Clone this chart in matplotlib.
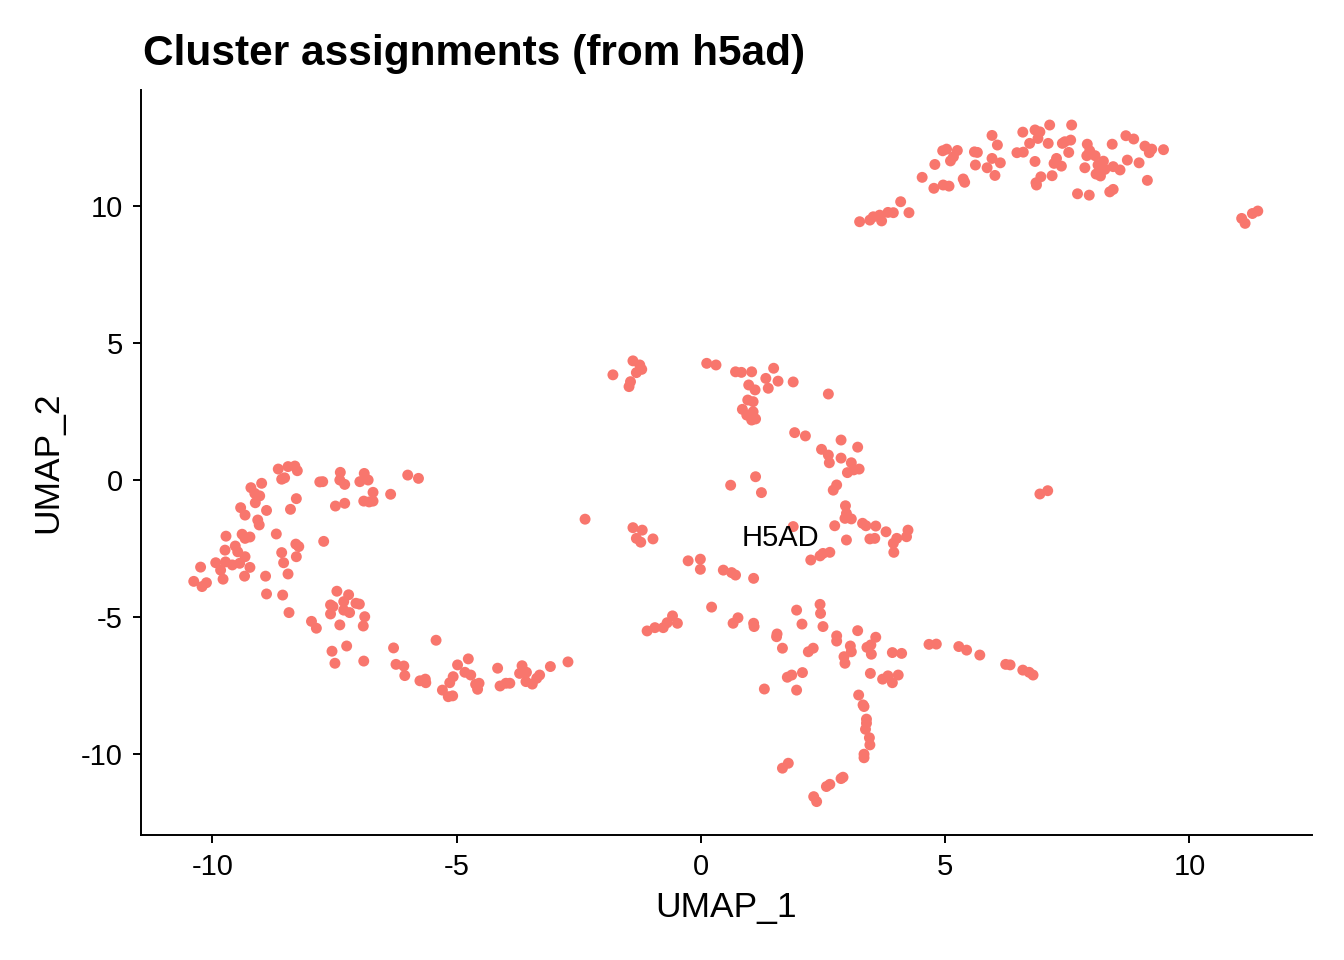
import matplotlib
matplotlib.use("Agg")
import matplotlib.pyplot as plt

plt.rcParams["font.family"] = ["Liberation Sans", "DejaVu Sans"]
plt.rcParams["axes.unicode_minus"] = False

RED = "#F8766D"

# UMAP coordinates, grouped by region
LEFT_X = [-8.65, -8.45, -8.31, -8.26, -8.58, -8.52, -8.99, -9.21, -9.13, -9.03,
          -9.12, -9.42, -9.33, -8.89, -9.07, -9.04, -8.40, -8.28, -7.80, -7.74,
          -7.38, -7.39, -7.29, -6.89, -6.98, -6.81, -6.71, -6.90, -6.79, -6.71,
          -7.48, -7.29, -6.35, -6.00, -5.78, -9.72, -9.39, -9.33, -9.23, -8.69,
          -9.53, -9.48, -9.33, -9.74, -9.93, -9.73, -9.59, -9.44, -9.83, -10.24,
          -10.38, -10.21, -10.12, -9.78, -9.34, -9.23, -8.91, -8.58, -8.54, -8.29,
          -8.23, -8.28, -8.45, -7.72, -8.89, -8.56, -8.43, -7.97, -7.87, -7.45,
          -7.21, -7.31, -7.58, -7.53, -7.58, -7.31, -7.19, -7.06, -6.99, -6.88,
          -6.91, -7.39]
LEFT_Y = [0.40, 0.49, 0.51, 0.34, 0.03, 0.08, -0.12, -0.28, -0.49, -0.58,
          -0.83, -1.01, -1.28, -1.11, -1.46, -1.64, -1.07, -0.68, -0.07, -0.06,
          0.28, 0.00, -0.16, 0.24, -0.06, 0.00, -0.45, -0.77, -0.80, -0.77,
          -0.95, -0.85, -0.52, 0.18, 0.06, -2.05, -1.98, -2.13, -2.08, -1.97,
          -2.41, -2.62, -2.80, -2.56, -3.02, -2.99, -3.10, -3.04, -3.29, -3.18,
          -3.70, -3.89, -3.75, -3.62, -3.51, -3.19, -3.51, -2.65, -3.02, -2.34,
          -2.43, -2.80, -3.43, -2.24, -4.16, -4.20, -4.84, -5.16, -5.41, -4.06,
          -4.19, -4.44, -4.56, -4.62, -4.89, -4.75, -4.84, -4.50, -4.53, -4.99,
          -5.33, -5.29]

ARC_X = [-7.55, -7.25, -7.49, -6.90, -6.29, -5.42, -6.24, -6.08, -6.06, -5.75,
         -5.64, -5.63, -5.29, -5.17, -5.08, -5.14, -5.07, -4.98, -4.83, -4.71,
         -4.76, -4.61, -4.54, -4.57, -4.16, -4.11, -3.99, -3.91, -3.66, -3.71,
         -3.57, -3.58, -3.45, -3.36, -3.30, -3.08, -2.72]
ARC_Y = [-6.25, -6.06, -6.69, -6.61, -6.13, -5.85, -6.73, -6.79, -7.14, -7.33,
         -7.27, -7.40, -7.67, -7.91, -7.88, -7.40, -7.18, -6.75, -7.02, -7.12,
         -6.53, -7.46, -7.42, -7.64, -6.87, -7.52, -7.42, -7.42, -6.78, -7.06,
         -7.02, -7.36, -7.45, -7.24, -7.12, -6.81, -6.64]

MID_X = [-1.80, -1.39, -1.25, -1.21, -1.32, -1.44, -1.47, 0.12, 0.31, 0.71,
         0.83, 1.04, 1.49, 1.33, 1.58, 1.38, 1.89, 2.61, 0.98, 1.11,
         0.96, 1.07, 0.85, 1.07, 0.94, 1.04, 1.12, 1.92, 2.14, 2.87,
         3.21, 2.47, 2.61, 2.63, 2.87, 3.08, 3.00, 3.13, 3.24, 1.12,
         0.61, 1.24, 2.78, 2.71, -2.37, -1.39, -1.20, -1.32, -1.23, -0.98,
         2.96, 2.98, 2.95, 3.08, 3.31, 3.38, 3.58, 2.74, 1.89, 2.98,
         3.46, 3.56, 3.79, 4.24, 4.21, 4.01, 3.94, 3.95, 2.50, 2.64,
         2.44, 2.25, -0.26, -0.01, -0.01, 0.46, 0.63, 0.71, 1.08, 6.94,
         7.10]
MID_Y = [3.84, 4.35, 4.20, 4.04, 3.92, 3.59, 3.41, 4.26, 4.20, 3.95,
         3.93, 3.95, 4.08, 3.71, 3.61, 3.35, 3.58, 3.14, 3.47, 3.29,
         2.92, 2.86, 2.58, 2.49, 2.37, 2.19, 2.23, 1.73, 1.61, 1.46,
         1.20, 1.12, 0.91, 0.63, 0.80, 0.63, 0.27, 0.37, 0.40, 0.12,
         -0.19, -0.46, -0.18, -0.37, -1.43, -1.74, -1.83, -2.13, -2.27, -2.15,
         -0.94, -1.22, -1.40, -1.42, -1.58, -1.67, -1.68, -1.67, -1.70, -2.19,
         -2.15, -2.13, -1.89, -1.83, -2.07, -2.13, -2.31, -2.64, -2.68, -2.64,
         -2.77, -2.92, -2.95, -2.89, -3.26, -3.29, -3.38, -3.47, -3.59, -0.51,
         -0.39]

LOW_X = [0.22, -1.10, -0.94, -0.77, -0.69, -0.58, -0.48, 0.66, 0.76, 1.08,
         1.09, 1.56, 1.55, 1.67, 1.96, 2.07, 2.44, 2.45, 2.50, 2.20,
         2.30, 2.78, 2.78, 3.21, 3.58, 3.06, 3.08, 2.93, 2.95, 3.40,
         3.48, 3.49, 3.92, 4.11, 3.47, 3.72, 3.83, 3.92, 4.04, 1.77,
         1.86, 2.08, 1.30, 1.96, 3.23, 3.32, 4.67, 4.82, 5.28, 5.44,
         5.71, 6.24, 6.33, 6.59, 6.72, 6.80, 3.34, 3.39, 3.39, 3.37,
         3.45, 3.46, 3.34, 3.34, 1.67, 1.79, 2.87, 2.91, 2.57, 2.64,
         2.31, 2.37]
LOW_Y = [-4.64, -5.51, -5.39, -5.39, -5.21, -4.96, -5.23, -5.23, -5.03, -5.23,
         -5.35, -5.62, -5.72, -6.14, -4.75, -5.26, -4.54, -4.87, -5.35, -6.27,
         -6.14, -5.69, -5.88, -5.50, -5.74, -6.06, -6.27, -6.45, -6.69, -6.11,
         -6.02, -6.36, -6.30, -6.33, -7.06, -7.27, -7.15, -7.40, -7.12, -7.20,
         -7.12, -7.03, -7.63, -7.67, -7.85, -8.21, -6.00, -5.99, -6.08, -6.21,
         -6.39, -6.73, -6.75, -6.94, -7.02, -7.12, -8.27, -8.73, -8.88, -9.10,
         -9.41, -9.67, -10.01, -10.14, -10.52, -10.34, -10.90, -10.85, -11.19, -11.11,
         -11.56, -11.74]

TOP_X = [3.25, 3.46, 3.53, 3.66, 3.70, 3.83, 3.94, 4.09, 4.26, 4.53,
         4.77, 4.79, 4.96, 5.08, 5.37, 5.40, 4.95, 5.03, 5.25, 5.11,
         5.17, 5.60, 5.66, 5.62, 5.86, 6.02, 5.96, 6.13, 5.96, 6.07,
         6.47, 6.60, 6.59, 6.84, 6.94, 6.73, 6.90, 7.14, 7.11, 6.84,
         6.87, 6.86, 6.96, 7.19, 7.59, 7.40, 7.57, 7.45, 7.53, 7.28,
         7.23, 7.38, 7.91, 7.96, 7.90, 8.07, 7.86, 7.71, 7.95, 8.13,
         8.24, 8.27, 8.09, 8.18, 8.44, 8.58, 8.37, 8.44, 8.42, 8.70,
         8.86, 8.73, 8.97, 9.09, 9.23, 9.18, 9.47, 9.14, 11.07, 11.14,
         11.29, 11.40]
TOP_Y = [9.43, 9.49, 9.61, 9.67, 9.46, 9.77, 9.76, 10.16, 9.76, 11.05,
         10.65, 11.52, 10.77, 10.73, 10.99, 10.87, 12.02, 12.08, 12.03, 11.65,
         11.80, 11.98, 11.96, 11.50, 11.40, 11.12, 11.74, 11.58, 12.58, 12.23,
         11.95, 11.97, 12.70, 12.78, 12.71, 12.29, 12.47, 12.96, 12.29, 11.63,
         10.77, 10.85, 11.07, 11.11, 12.96, 12.29, 12.41, 12.35, 11.96, 11.74,
         11.56, 11.46, 12.26, 12.02, 11.84, 11.84, 11.40, 10.45, 10.40, 11.50,
         11.64, 11.34, 11.17, 11.10, 11.44, 11.32, 10.52, 10.61, 12.26, 12.57,
         12.45, 11.68, 11.58, 12.19, 12.08, 11.95, 12.06, 10.94, 9.55, 9.37,
         9.73, 9.82]

umap_1 = LEFT_X + ARC_X + MID_X + LOW_X + TOP_X
umap_2 = LEFT_Y + ARC_Y + MID_Y + LOW_Y + TOP_Y
CLUSTER_LABEL = "H5AD"
LABEL_POS = (1.62, -2.12)

fig = plt.figure(figsize=(13.44, 9.6), dpi=100)
ax = fig.add_axes([0.1049, 0.1302, 0.8713, 0.7758])

ax.scatter(umap_1, umap_2, s=62, color=RED, edgecolors="none", zorder=2)
ax.text(*LABEL_POS, CLUSTER_LABEL, ha="center", va="center", fontsize=21, color="black")

ax.set_xlim(-11.46, 12.51)
ax.set_ylim(-12.96, 14.23)
ax.set_xticks([-10, -5, 0, 5, 10])
ax.set_yticks([-10, -5, 0, 5, 10])
for s in ("top", "right"):
    ax.spines[s].set_visible(False)
for s in ("left", "bottom"):
    ax.spines[s].set_linewidth(1.4)
ax.tick_params(length=6, width=1.4, pad=7, labelsize=21, colors="black")

fig.text(726 / 1344, 1 - 917 / 960, "UMAP_1", ha="center", va="baseline", fontsize=25.5)
fig.text(48 / 1344, 1 - 462 / 960, "UMAP_2", ha="center", va="center", rotation=90, fontsize=25.5)
fig.text(143 / 1344, 1 - 65 / 960, "Cluster assignments (from h5ad)", ha="left",
         va="baseline", fontsize=30.5, fontweight="bold")

fig.savefig("out.png", dpi=100, facecolor="white")
